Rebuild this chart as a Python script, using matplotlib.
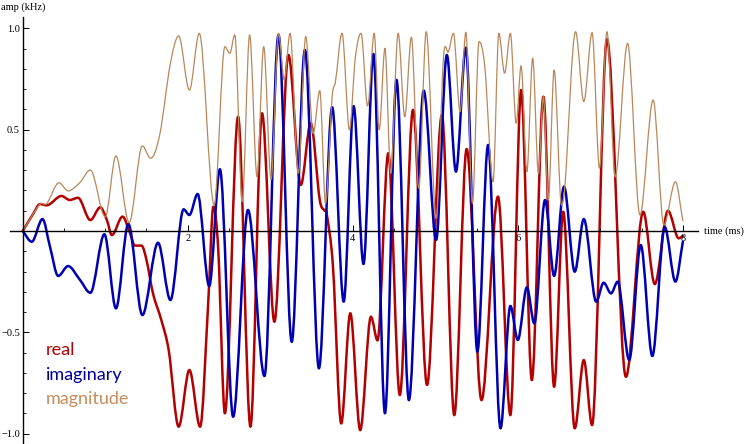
import matplotlib.pyplot as plt
from matplotlib.path import Path
from matplotlib.patches import PathPatch
from matplotlib.ticker import MultipleLocator

# values (time in ms, amplitude in kHz)
t_real = [0, 0.13, 0.21, 0.29, 0.47, 0.57, 0.67, 0.82, 0.94, 1.02, 1.08, 1.21,
          1.30, 1.36, 1.44, 1.50, 1.58, 1.68, 1.77, 1.89, 2.02, 2.15, 2.25, 2.31,
          2.37, 2.45, 2.61, 2.76, 2.90, 3.05, 3.22, 3.37, 3.49, 3.60, 3.66, 3.68,
          3.76, 3.86, 3.97, 4.09, 4.22, 4.30, 4.43, 4.57, 4.73, 4.90, 5.08, 5.23,
          5.38, 5.56, 5.76, 5.91, 6.04, 6.17, 6.31, 6.44, 6.55, 6.69, 6.80, 6.90,
          7.08, 7.31, 7.52, 7.66, 7.82, 7.95, 8.0]
real = [0, 0.087, 0.133, 0.127, 0.173, 0.153, 0.164, 0.054, 0.117, 0.054, -0.02, 0.071,
        -0.01, -0.072, -0.072, -0.143, -0.31, -0.44, -0.59, -0.966, -0.686, -0.966, -0.34, 0.12,
        -0.094, -0.90, 0.564, -0.966, 0.581, -0.448, 0.869, 0.227, 0.532, 0.153, 0.10, 0.095,
        -0.176, -0.95, -0.406, -0.983, -0.423, -0.54, 0.384, -0.81, 0.598, -0.76, 0.573, -0.909,
        0.405, -0.835, 0.17, -0.909, 0.696, -0.736, 0.663, -0.769, 0.095, -0.974, -0.637, -0.958,
        0.947, -0.72, 0.095, -0.262, 0.10, -0.036, -0.025]

t_imag = [0, 0.11, 0.24, 0.33, 0.43, 0.55, 0.69, 0.82, 0.99, 1.13, 1.28, 1.45,
          1.64, 1.79, 1.95, 2.02, 2.12, 2.26, 2.39, 2.55, 2.73, 2.93, 3.10, 3.26,
          3.42, 3.59, 3.75, 3.89, 4.01, 4.13, 4.25, 4.39, 4.53, 4.68, 4.86, 5.01,
          5.14, 5.25, 5.37, 5.51, 5.64, 5.79, 5.91, 6.00, 6.11, 6.20, 6.33, 6.44,
          6.56, 6.69, 6.80, 6.95, 7.04, 7.13, 7.21, 7.35, 7.49, 7.63, 7.78, 7.91, 8.0]
imag = [0, -0.053, 0.059, -0.077, -0.222, -0.173, -0.239, -0.305, -0.016, -0.382, 0.035, -0.415,
        -0.058, -0.341, 0.107, 0.079, 0.183, -0.272, 0.305, -0.917, 0.104, -0.716, 0.968, -0.547,
        0.894, -0.678, 0.611, -0.349, 0.617, -0.163, 0.874, -0.90, 0.746, -0.835, 0.693, -0.044,
        0.869, 0.293, 0.905, -0.596, 0.425, -0.974, -0.37, -0.538, -0.278, -0.456, 0.153, -0.222,
        0.219, -0.201, 0.059, -0.349, -0.255, -0.308, -0.25, -0.637, -0.069, -0.617, 0.02, -0.25, -0.053]

t_mag = [0, 0.21, 0.29, 0.44, 0.55, 0.69, 0.82, 1.0, 1.13, 1.29, 1.45, 1.55,
         1.66, 1.79, 1.89, 2.02, 2.14, 2.32, 2.45, 2.51, 2.57, 2.66, 2.75, 2.84,
         2.92, 3.01, 3.10, 3.17, 3.24, 3.34, 3.43, 3.52, 3.60, 3.67, 3.75, 3.79,
         3.87, 3.96, 4.03, 4.10, 4.18, 4.26, 4.32, 4.39, 4.46, 4.55, 4.63, 4.71,
         4.80, 4.89, 5.01, 5.10, 5.16, 5.22, 5.30, 5.37, 5.45, 5.53, 5.60, 5.70,
         5.77, 5.84, 5.91, 5.98, 6.04, 6.11, 6.18, 6.25, 6.31, 6.37, 6.44, 6.53,
         6.57, 6.70, 6.80, 6.90, 6.99, 7.08, 7.18, 7.33, 7.48, 7.64, 7.77, 7.91, 8.0]
mag = [0, 0.133, 0.135, 0.238, 0.198, 0.238, 0.301, 0.07, 0.37, 0.041, 0.42, 0.359,
       0.474, 0.828, 0.963, 0.696, 0.976, 0.128, 0.91, 0.877, 0.968, 0.145, 0.968, 0.268,
       0.91, 0.255, 0.976, 0.746, 0.976, 0.285, 0.96, 0.482, 0.693, 0.137, 0.663, 0.737,
       0.976, 0.499, 0.853, 0.976, 0.617, 0.976, 0.499, 0.902, 0.285, 0.976, 0.564, 0.957,
       0.211, 0.984, 0.063, 0.86, 0.885, 0.976, 0.589, 0.981, 0.137, 0.935, 0.811, 0.243,
       0.976, 0.779, 0.976, 0.532, 0.815, 0.293, 0.853, 0.285, 0.663, 0.153, 0.795, 0.128,
       0.219, 0.984, 0.639, 0.979, 0.31, 0.984, 0.268, 0.927, 0.079, 0.647, 0.03, 0.243, 0.051]

RED = '#B30000'
BLUE = '#0000B3'
TAN = '#B9875A'


def smooth_curve(ax, xs, ys, color, lw):
    # draw the read points joined by bezier pieces, flat at turning points
    n = len(xs)
    slopes = []
    for i in range(n):
        if i == 0:
            m = (ys[1] - ys[0]) / (xs[1] - xs[0])
        elif i == n - 1:
            m = (ys[-1] - ys[-2]) / (xs[-1] - xs[-2])
        elif (ys[i] - ys[i - 1]) * (ys[i + 1] - ys[i]) <= 0:
            m = 0.0
        else:
            m = (ys[i + 1] - ys[i - 1]) / (xs[i + 1] - xs[i - 1])
        slopes.append(m)
    verts = [(xs[0], ys[0])]
    codes = [Path.MOVETO]
    for i in range(n - 1):
        d = (xs[i + 1] - xs[i]) / 3
        verts += [(xs[i] + d, ys[i] + slopes[i] * d),
                  (xs[i + 1] - d, ys[i + 1] - slopes[i + 1] * d),
                  (xs[i + 1], ys[i + 1])]
        codes += [Path.CURVE4] * 3
    patch = PathPatch(Path(verts, codes), fill=False, edgecolor=color, lw=lw,
                      joinstyle='round', capstyle='round')
    ax.add_patch(patch)


fig = plt.figure(figsize=(7.45, 4.44), dpi=100)
ax = fig.add_axes([10 / 745, 0.7 / 444, 687.7 / 745, 426.6 / 444])

smooth_curve(ax, t_real, real, RED, 1.8)
smooth_curve(ax, t_imag, imag, BLUE, 1.8)
smooth_curve(ax, t_mag, mag, TAN, 0.9)

ax.set_xlim(-0.154, 8.18)
ax.set_ylim(-1.048, 1.058)

# mathematica style axes through the origin
for s in ['top', 'right']:
    ax.spines[s].set_visible(False)
ax.spines['left'].set_position(('data', 0))
ax.spines['bottom'].set_position(('data', 0))
for s in ['left', 'bottom']:
    ax.spines[s].set_linewidth(1.0)

ax.xaxis.set_minor_locator(MultipleLocator(0.5))
ax.yaxis.set_minor_locator(MultipleLocator(0.1))
ax.set_xticks([2, 4, 6, 8])
ax.set_xticklabels(['2', '4', '6', '8'])
ax.set_yticks([-1.0, -0.5, 0.5, 1.0])
ax.set_yticklabels(['\u22121.0', '\u22120.5', '0.5', '1.0'])

ax.tick_params(which='major', direction='in', length=4.5, width=0.7,
               labelsize=7.5, pad=2)
ax.tick_params(which='minor', direction='in', length=2.5, width=0.6)
for lab in ax.get_xticklabels() + ax.get_yticklabels():
    lab.set_fontfamily('Liberation Serif')

fig.text(1 / 745, 1 - 7 / 444, 'amp (kHz)', family='Liberation Serif',
         fontsize=7.5, va='center', ha='left')
fig.text(704 / 745, 1 - 231 / 444, 'time (ms)', family='Liberation Serif',
         fontsize=7.5, va='center', ha='left')

fig.text(46 / 745, 1 - 355 / 444, 'real', color=RED, family='Lato',
         fontsize=13, va='baseline')
fig.text(46 / 745, 1 - 380 / 444, 'imaginary', color='#000096', family='Lato',
         fontsize=13, va='baseline')
fig.text(46 / 745, 1 - 404 / 444, 'magnitude', color='#C58C5C', family='Lato',
         fontsize=13, va='baseline')

fig.savefig('out.png', dpi=100)
